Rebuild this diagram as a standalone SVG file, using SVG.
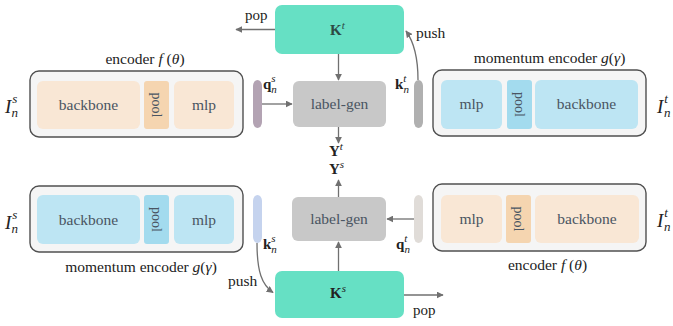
<svg xmlns="http://www.w3.org/2000/svg" width="673" height="326" viewBox="0 0 673 326">
<defs>
<marker id="ah" viewBox="0 0 10 10" refX="9" refY="5" markerWidth="7" markerHeight="7" markerUnits="userSpaceOnUse" orient="auto">
<path d="M0,0 L10,5 L0,10 Z" fill="#707070"/>
</marker>
<style>
.outer{fill:#f5f5f5;stroke:#505050;stroke-width:1.4}
.peach{fill:#f9e7d5}
.peachp{fill:#f5d5b0}
.blue{fill:#bde5f3}
.bluep{fill:#a3dbee}
.queue{fill:#66e0c4}
.lg{fill:#c8c8c8}
.c{stroke:#707070;stroke-width:1.3;fill:none;marker-end:url(#ah)}
</style>
</defs>

<g id="Kt">
<rect x="275" y="5" width="129" height="49" rx="7" class="queue"/>
<text style="font-family:'Liberation Serif',serif" x="330" y="35" font-weight="bold" font-size="15" fill="#2d4a44">K<tspan font-style="italic" font-weight="normal" font-size="11" dy="-6">t</tspan></text>
</g>
<g id="Ks">
<rect x="275" y="271" width="129" height="47" rx="7" class="queue"/>
<text style="font-family:'Liberation Serif',serif" x="330" y="298" font-weight="bold" font-size="15" fill="#222">K<tspan font-style="italic" font-weight="normal" font-size="11" dy="-6">s</tspan></text>
</g>

<g id="labelgen-top">
<rect x="293" y="81" width="93" height="46" rx="6" class="lg"/>
<text style="font-family:'Liberation Serif',serif" x="339.5" y="109" font-size="15.5" fill="#4a5562" text-anchor="middle">label-gen</text>
</g>
<g id="labelgen-bottom">
<rect x="292" y="197" width="94" height="44" rx="6" class="lg"/>
<text style="font-family:'Liberation Serif',serif" x="339" y="224" font-size="15.5" fill="#4a5562" text-anchor="middle">label-gen</text>
</g>

<g id="Y">
<text style="font-family:'Liberation Serif',serif" x="329" y="156" font-weight="bold" font-size="15" fill="#222">Y<tspan font-style="italic" font-weight="normal" font-size="11" dy="-6">t</tspan></text>
<text style="font-family:'Liberation Serif',serif" x="329" y="174" font-weight="bold" font-size="15" fill="#222">Y<tspan font-style="italic" font-weight="normal" font-size="11" dy="-6">s</tspan></text>
</g>

<g id="enc-tl">
<rect x="30" y="71" width="213" height="66" rx="9" class="outer"/>
<rect x="37" y="81" width="103" height="48" rx="6" class="peach"/>
<rect x="144" y="81" width="25" height="48" rx="3" class="peachp"/>
<rect x="174" y="81" width="60" height="48" rx="6" class="peach"/>
<text style="font-family:'Liberation Serif',serif" x="88.5" y="110" font-size="15.5" fill="#4a5562" text-anchor="middle">backbone</text>
<text style="font-family:'Liberation Serif',serif" transform="translate(152,105) rotate(90)" font-size="14" fill="#4a5562" text-anchor="middle">pool</text>
<text style="font-family:'Liberation Serif',serif" x="204" y="110" font-size="15.5" fill="#4a5562" text-anchor="middle">mlp</text>
<text style="font-family:'Liberation Serif',serif" x="145" y="64" font-size="15.5" fill="#222" text-anchor="middle">encoder <tspan font-style="italic">f</tspan> (<tspan font-style="italic">θ</tspan>)</text>
</g>

<g id="enc-tr">
<rect x="433" y="70" width="213" height="66" rx="9" class="outer"/>
<rect x="441" y="80" width="61" height="49" rx="6" class="blue"/>
<rect x="507" y="80" width="25" height="49" rx="3" class="bluep"/>
<rect x="535" y="80" width="103" height="49" rx="6" class="blue"/>
<text style="font-family:'Liberation Serif',serif" x="471.5" y="109" font-size="15.5" fill="#4a5562" text-anchor="middle">mlp</text>
<text style="font-family:'Liberation Serif',serif" transform="translate(515,104.5) rotate(90)" font-size="14" fill="#4a5562" text-anchor="middle">pool</text>
<text style="font-family:'Liberation Serif',serif" x="586.5" y="109" font-size="15.5" fill="#4a5562" text-anchor="middle">backbone</text>
<text style="font-family:'Liberation Serif',serif" x="549.5" y="63" font-size="15.5" fill="#222" text-anchor="middle">momentum encoder <tspan font-style="italic">g</tspan>(<tspan font-style="italic">γ</tspan>)</text>
</g>

<g id="enc-bl">
<rect x="30" y="186" width="213" height="66" rx="9" class="outer"/>
<rect x="37" y="195" width="103" height="49" rx="6" class="blue"/>
<rect x="144" y="195" width="25" height="49" rx="3" class="bluep"/>
<rect x="174" y="195" width="60" height="49" rx="6" class="blue"/>
<text style="font-family:'Liberation Serif',serif" x="88.5" y="225" font-size="15.5" fill="#4a5562" text-anchor="middle">backbone</text>
<text style="font-family:'Liberation Serif',serif" transform="translate(152,219.5) rotate(90)" font-size="14" fill="#4a5562" text-anchor="middle">pool</text>
<text style="font-family:'Liberation Serif',serif" x="204" y="225" font-size="15.5" fill="#4a5562" text-anchor="middle">mlp</text>
<text style="font-family:'Liberation Serif',serif" x="141" y="272" font-size="15.5" fill="#222" text-anchor="middle">momentum encoder <tspan font-style="italic">g</tspan>(<tspan font-style="italic">γ</tspan>)</text>
</g>

<g id="enc-br">
<rect x="433" y="184" width="213" height="67" rx="9" class="outer"/>
<rect x="441" y="195" width="61" height="48" rx="6" class="peach"/>
<rect x="506" y="195" width="25" height="48" rx="3" class="peachp"/>
<rect x="535" y="195" width="104" height="48" rx="6" class="peach"/>
<text style="font-family:'Liberation Serif',serif" x="471.5" y="224" font-size="15.5" fill="#4a5562" text-anchor="middle">mlp</text>
<text style="font-family:'Liberation Serif',serif" transform="translate(514,219) rotate(90)" font-size="14" fill="#4a5562" text-anchor="middle">pool</text>
<text style="font-family:'Liberation Serif',serif" x="587" y="224" font-size="15.5" fill="#4a5562" text-anchor="middle">backbone</text>
<text style="font-family:'Liberation Serif',serif" x="547.5" y="270" font-size="15.5" fill="#222" text-anchor="middle">encoder <tspan font-style="italic">f</tspan> (<tspan font-style="italic">θ</tspan>)</text>
</g>

<g id="I-tl"><text style="font-family:'Liberation Serif',serif" x="5" y="113" font-style="italic" font-size="19" fill="#222">I<tspan font-size="13" dx="1" dy="-10">s</tspan><tspan font-size="13" dx="-6" dy="14">n</tspan></text></g>
<g id="I-tr"><text style="font-family:'Liberation Serif',serif" x="657" y="113" font-style="italic" font-size="19" fill="#222">I<tspan font-size="13" dx="1" dy="-10">t</tspan><tspan font-size="13" dx="-4" dy="14">n</tspan></text></g>
<g id="I-bl"><text style="font-family:'Liberation Serif',serif" x="5" y="229" font-style="italic" font-size="19" fill="#222">I<tspan font-size="13" dx="1" dy="-10">s</tspan><tspan font-size="13" dx="-6" dy="14">n</tspan></text></g>
<g id="I-br"><text style="font-family:'Liberation Serif',serif" x="657" y="227" font-style="italic" font-size="19" fill="#222">I<tspan font-size="13" dx="1" dy="-10">t</tspan><tspan font-size="13" dx="-4" dy="14">n</tspan></text></g>

<g id="qs-top">
<rect x="253" y="80" width="9" height="48" rx="4.5" ry="6" fill="#b3a3b3"/>
<text style="font-family:'Liberation Serif',serif" x="263" y="89" font-weight="bold" font-size="15" fill="#222">q<tspan font-style="italic" font-weight="normal" font-size="11" dy="-7">s</tspan><tspan font-style="italic" font-weight="normal" font-size="11" dx="-4.5" dy="11">n</tspan></text>
</g>
<g id="kt-top">
<rect x="414" y="80" width="9" height="48" rx="4.5" ry="6" fill="#b0b0b0"/>
<text style="font-family:'Liberation Serif',serif" x="395" y="89" font-weight="bold" font-size="15" fill="#222">k<tspan font-style="italic" font-weight="normal" font-size="11" dy="-7">t</tspan><tspan font-style="italic" font-weight="normal" font-size="11" dx="-3" dy="11">n</tspan></text>
</g>
<g id="ks-bottom">
<rect x="253" y="195" width="9" height="48" rx="4.5" ry="6" fill="#c5d3ee"/>
<text style="font-family:'Liberation Serif',serif" x="263" y="249" font-weight="bold" font-size="15" fill="#222">k<tspan font-style="italic" font-weight="normal" font-size="11" dy="-7">s</tspan><tspan font-style="italic" font-weight="normal" font-size="11" dx="-4.5" dy="11">n</tspan></text>
</g>
<g id="qt-bottom">
<rect x="414" y="195" width="9" height="48" rx="4.5" ry="6" fill="#e0dcd8"/>
<text style="font-family:'Liberation Serif',serif" x="396" y="249" font-weight="bold" font-size="15" fill="#222">q<tspan font-style="italic" font-weight="normal" font-size="11" dy="-7">t</tspan><tspan font-style="italic" font-weight="normal" font-size="11" dx="-3" dy="11">n</tspan></text>
</g>

<g id="connectors">
<path d="M275,29.5 L236,29.5" class="c"/>
<path d="M338.5,54 L338.5,80" class="c"/>
<path d="M262,104 L292,104" class="c"/>
<path d="M338.5,127 L338.5,143" class="c"/>
<path d="M418,80 C418,56 414,42 406,31" class="c"/>
<path d="M338.5,197 L338.5,180" class="c"/>
<path d="M414,219 L387,219" class="c"/>
<path d="M338.5,271 L338.5,242" class="c"/>
<path d="M404,295 L443,295" class="c"/>
<path d="M257,243 C257,272 262,285 273,292.5" class="c"/>
</g>

<g id="edge-labels">
<text style="font-family:'Liberation Serif',serif" x="245" y="20" font-size="15" fill="#222">pop</text>
<text style="font-family:'Liberation Serif',serif" x="416" y="38" font-size="15.5" fill="#222">push</text>
<text style="font-family:'Liberation Serif',serif" x="228" y="286" font-size="15.5" fill="#222">push</text>
<text style="font-family:'Liberation Serif',serif" x="413" y="315" font-size="15" fill="#222">pop</text>
</g>
</svg>
